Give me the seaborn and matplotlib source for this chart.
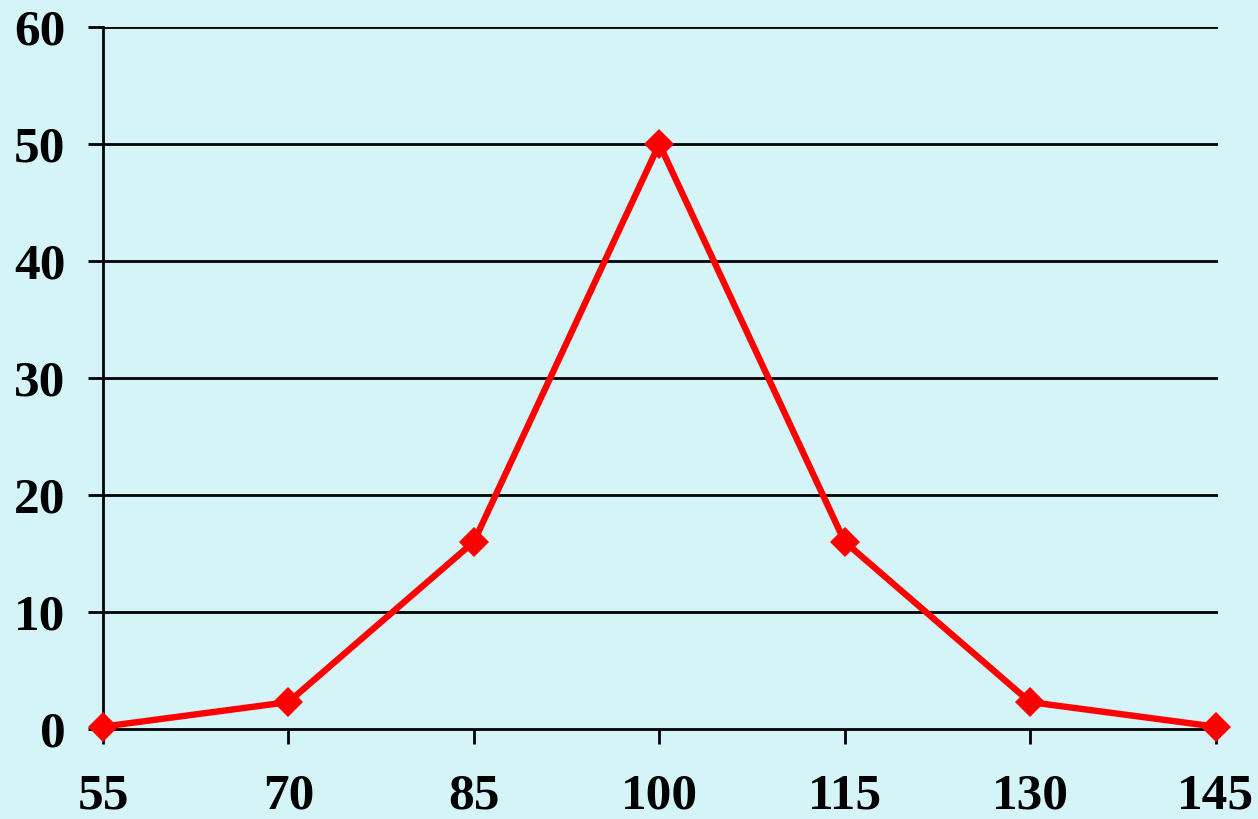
import matplotlib
matplotlib.use("Agg")
import matplotlib.pyplot as plt
import seaborn as sns
import pandas as pd

x_values = [55, 70, 85, 100, 115, 130, 145]
y_values = [0.2, 2.3, 16, 50, 16, 2.3, 0.2]
y_ticks = [0, 10, 20, 30, 40, 50, 60]

plt.rcParams['font.family'] = ['Liberation Serif', 'DejaVu Serif']
plt.rcParams['font.weight'] = 'bold'

bg = '#D5F4F8'
fig = plt.figure(figsize=(12.58, 8.19), dpi=100, facecolor=bg)
ax = fig.add_axes([103/1258, 1-729/819, (1218-103)/1258, (729-27)/819])
ax.set_facecolor(bg)

df = pd.DataFrame({'x': x_values, 'y': y_values})
sns.lineplot(data=df, x='x', y='y', ax=ax, color='#FF0000', linewidth=4.6,
             marker='D', markersize=15.5, markeredgewidth=0, markerfacecolor='#FF0000',
             zorder=5, clip_on=False)

ax.set_xlim(55, 145.2)
ax.set_ylim(0, 60)
ax.set_xticks(x_values)
ax.set_yticks(y_ticks)
ax.set_xticklabels([str(v) for v in x_values], fontsize=37, fontweight='bold')
ax.set_yticklabels([str(v) for v in y_ticks], fontsize=37, fontweight='bold')
ax.set_xlabel('')
ax.set_ylabel('')

for v in y_ticks[1:]:
    ax.axhline(v, color='black', linewidth=2.0, zorder=1, xmin=0, xmax=1)

for s in ['top', 'right']:
    ax.spines[s].set_visible(False)
ax.spines['left'].set_linewidth(2.0)
ax.spines['bottom'].set_linewidth(2.0)
ax.tick_params(axis='y', length=11, width=2.0, pad=16, color='black')
ax.tick_params(axis='x', length=11, width=2.0, pad=21, color='black')
ax.grid(False)

fig.savefig('out.png', dpi=100, facecolor=bg)
